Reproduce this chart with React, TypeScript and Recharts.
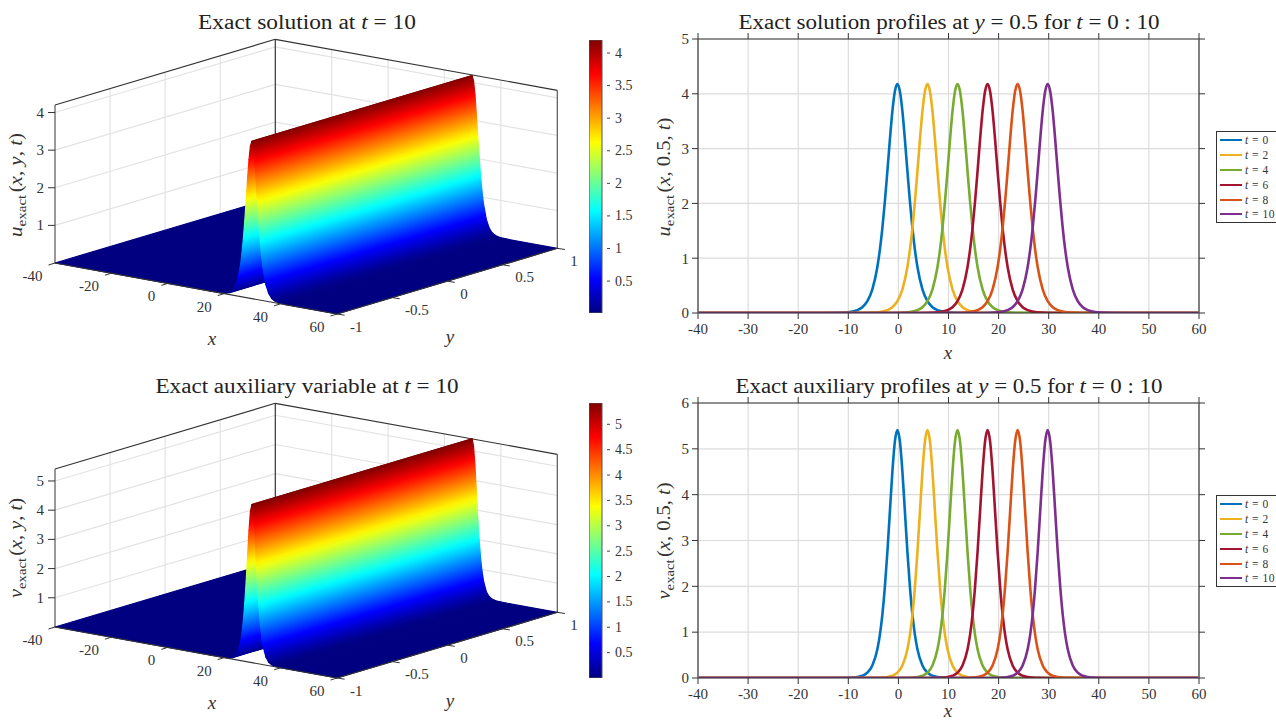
import React from 'react';
import {
  CartesianGrid,
  ComposedChart,
  Legend,
  Line,
  LineChart,
  ReferenceArea,
  Scatter,
  ScatterChart,
  XAxis,
  YAxis
} from 'recharts';

const SERIF = '"Liberation Serif", serif';
const INK = '#333333';

const xTicks = [-40, -30, -20, -10, 0, 10, 20, 30, 40, 50, 60];
const uTicks = [0, 1, 2, 3, 4, 5];
const vTicks = [0, 1, 2, 3, 4, 5, 6];
const uBarTicks = [0.5, 1, 1.5, 2, 2.5, 3, 3.5, 4];
const vBarTicks = [0.5, 1, 1.5, 2, 2.5, 3, 3.5, 4, 4.5, 5];
const surfaceXTicks = [-40, -20, 0, 20, 40, 60];
const surfaceYTicks = [-1, -0.5, 0, 0.5, 1];
const uSurfaceZTicks = [1, 2, 3, 4];
const vSurfaceZTicks = [1, 2, 3, 4, 5];

const timeLabels = ['0', '2', '4', '6', '8', '10'];
const lineColors = ['#0072bd', '#edb120', '#77ac30', '#a2142f', '#d95319', '#7e2f8e'];

// x samples read for each profile, denser around the peak
const xT0 = [-40, -15.2, -12.2, -10.2, -9.2, -8.2, -7.2, -6.2, -5.2, -4.2, -3.7, -3.2, -2.7, -2.2, -1.7, -1.2, -0.7, -0.2, 0.3, 0.8, 1.3, 1.8, 2.3, 2.8, 3.3, 3.8, 4.8, 5.8, 6.8, 7.8, 8.8, 9.8, 11.8, 14.8, 60];
const xT2 = [-40, -9.2, -6.2, -4.2, -3.2, -2.2, -1.2, -0.2, 0.8, 1.8, 2.3, 2.8, 3.3, 3.8, 4.3, 4.8, 5.3, 5.8, 6.3, 6.8, 7.3, 7.8, 8.3, 8.8, 9.3, 9.8, 10.8, 11.8, 12.8, 13.8, 14.8, 15.8, 17.8, 20.8, 60];
const xT4 = [-40, -3.2, -0.2, 1.8, 2.8, 3.8, 4.8, 5.8, 6.8, 7.8, 8.3, 8.8, 9.3, 9.8, 10.3, 10.8, 11.3, 11.8, 12.3, 12.8, 13.3, 13.8, 14.3, 14.8, 15.3, 15.8, 16.8, 17.8, 18.8, 19.8, 20.8, 21.8, 23.8, 26.8, 60];
const xT6 = [-40, 2.8, 5.8, 7.8, 8.8, 9.8, 10.8, 11.8, 12.8, 13.8, 14.3, 14.8, 15.3, 15.8, 16.3, 16.8, 17.3, 17.8, 18.3, 18.8, 19.3, 19.8, 20.3, 20.8, 21.3, 21.8, 22.8, 23.8, 24.8, 25.8, 26.8, 27.8, 29.8, 32.8, 60];
const xT8 = [-40, 8.8, 11.8, 13.8, 14.8, 15.8, 16.8, 17.8, 18.8, 19.8, 20.3, 20.8, 21.3, 21.8, 22.3, 22.8, 23.3, 23.8, 24.3, 24.8, 25.3, 25.8, 26.3, 26.8, 27.3, 27.8, 28.8, 29.8, 30.8, 31.8, 32.8, 33.8, 35.8, 38.8, 60];
const xT10 = [-40, 14.8, 17.8, 19.8, 20.8, 21.8, 22.8, 23.8, 24.8, 25.8, 26.3, 26.8, 27.3, 27.8, 28.3, 28.8, 29.3, 29.8, 30.3, 30.8, 31.3, 31.8, 32.3, 32.8, 33.3, 33.8, 34.8, 35.8, 36.8, 37.8, 38.8, 39.8, 41.8, 44.8, 60];
const profileXs = [xT0, xT2, xT4, xT6, xT8, xT10];

// the wave keeps its shape while it moves, so all six profiles share these heights
const uProfile = [0, 0.0003, 0.003, 0.012, 0.026, 0.052, 0.106, 0.217, 0.433, 0.841, 1.152, 1.55, 2.035, 2.589, 3.162, 3.682, 4.048, 4.18, 4.048, 3.682, 3.162, 2.589, 2.035, 1.55, 1.152, 0.841, 0.433, 0.217, 0.106, 0.052, 0.026, 0.012, 0.003, 0.0003, 0];
const vProfile = [0, 0.0001, 0.0006, 0.0036, 0.0086, 0.02, 0.049, 0.116, 0.272, 0.626, 0.942, 1.383, 1.987, 2.749, 3.63, 4.503, 5.162, 5.41, 5.162, 4.503, 3.63, 2.749, 1.987, 1.383, 0.942, 0.626, 0.272, 0.116, 0.049, 0.02, 0.0086, 0.0036, 0.0006, 0.0001, 0];

const jet = (t: number) => {
  const v = Math.max(0, Math.min(1, t));
  const ch = (c: number) => Math.round(255 * Math.max(0, Math.min(1, 1.5 - Math.abs(4 * v - c))));
  return `rgb(${ch(3)},${ch(2)},${ch(1)})`;
};

const jetStops = [0, 0.125, 0.375, 0.625, 0.875, 1];

const Subscripted = ({ sym, inner }: { sym: string; inner: React.ReactNode }) => (
  <>
    <tspan fontStyle="italic">{sym}</tspan>
    <tspan fontSize="0.72em" dy="3.5">exact</tspan>
    <tspan dy="-3.5" dx="2">(</tspan>
    {inner}
    <tspan>)</tspan>
  </>
);

const Title = ({ x, y, len, children }: { x: number; y: number; len: number; children: React.ReactNode }) => (
  <text x={x} y={y} textAnchor="middle" fontFamily={SERIF} fontSize={20} fill="#222" textLength={len} lengthAdjust="spacingAndGlyphs">
    {children}
  </text>
);

const SideLabel = ({ x, y, len, children }: { x: number; y: number; len: number; children: React.ReactNode }) => (
  <text
    transform={`translate(${x},${y}) rotate(-90)`}
    textAnchor="middle"
    fontFamily={SERIF}
    fontSize={18}
    fill={INK}
    textLength={len}
    lengthAdjust="spacingAndGlyphs"
  >
    {children}
  </text>
);

const Math_ = ({ children }: { children: string }) => <tspan fontStyle="italic">{children}</tspan>;

// ---- flat strips of the surface, placed at a scaled corner point
const StripShape = (props: any) => {
  const { cx, cy, payload } = props;
  const { corners, z0, z1, id, n } = payload;
  const pts = corners.map((c: number[]) => `${cx + c[0]},${cy + c[1]}`).join(' ');
  const frac = [0, 0.2, 0.4, 0.6, 0.8, 1];
  return (
    <g>
      <defs>
        <linearGradient id={id} gradientUnits="userSpaceOnUse" x1={cx} y1={cy} x2={cx + n[0]} y2={cy + n[1]}>
          {frac.map((f) => (
            <stop key={f} offset={f} stopColor={jet(z0 + (z1 - z0) * f)} />
          ))}
        </linearGradient>
      </defs>
      <polygon points={pts} fill={`url(#${id})`} stroke={`url(#${id})`} strokeWidth={1.2} strokeLinejoin="round" />
    </g>
  );
};

const SegmentShape = (props: any) => {
  const { cx, cy, payload } = props;
  return (
    <line
      x1={cx}
      y1={cy}
      x2={cx + payload.dx}
      y2={cy + payload.dy}
      stroke={payload.stroke}
      strokeWidth={payload.width}
    />
  );
};

const LabelShape = (props: any) => {
  const { cx, cy, payload } = props;
  return (
    <text
      x={cx + payload.ox}
      y={cy + payload.oy}
      textAnchor={payload.anchor}
      dominantBaseline="central"
      fontFamily={SERIF}
      fontSize={payload.size}
      fontStyle={payload.italic ? 'italic' : 'normal'}
      fill={INK}
    >
      {payload.text}
    </text>
  );
};

const origin = { x: 55, y: 263 };
const xStep = { x: 2.82, y: 0.51 };
const yStep = { x: 110.15, y: -32.85 };

interface SurfaceProps {
  id: string;
  height: number;
  xs: number[];
  zs: number[];
  zMax: number;
  zTicks: number[];
  title: React.ReactNode;
  titleLen: number;
  sideLabel: React.ReactNode;
  sideY: number;
  sideLen: number;
}

const SurfacePanel: React.FC<SurfaceProps> = ({ id, height, xs, zs, zMax, zTicks, title, titleLen, sideLabel, sideY, sideLen }) => {
  const zScale = 158 / zMax;
  const project = (x: number, y: number, z: number) => ({
    sx: origin.x + (x + 40) * xStep.x + (y + 1) * yStep.x,
    sy: origin.y + (x + 40) * xStep.y + (y + 1) * yStep.y - z * zScale
  });
  const segment = (a: number[], b: number[], stroke: string, width = 1.2) => {
    const p = project(a[0], a[1], a[2]);
    const q = project(b[0], b[1], b[2]);
    return { ...p, dx: q.sx - p.sx, dy: q.sy - p.sy, stroke, width };
  };
  const offset = (a: number[], dx: number, dy: number, stroke: string) => ({
    ...project(a[0], a[1], a[2]),
    dx,
    dy,
    stroke,
    width: 1
  });

  const GRID = '#e3e3e3';
  const backLines = [
    ...surfaceYTicks.slice(1, -1).map((y) => segment([-40, y, 0], [-40, y, zMax], GRID)),
    ...surfaceXTicks.slice(1, -1).map((x) => segment([x, 1, 0], [x, 1, zMax], GRID)),
    ...zTicks.map((z) => segment([-40, -1, z], [-40, 1, z], GRID)),
    ...zTicks.map((z) => segment([-40, 1, z], [60, 1, z], GRID)),
    segment([-40, -1, zMax], [-40, 1, zMax], INK),
    segment([-40, 1, zMax], [60, 1, zMax], INK),
    segment([-40, 1, 0], [-40, 1, zMax], INK),
    segment([-40, -1, 0], [-40, -1, zMax], '#555'),
    segment([60, 1, 0], [60, 1, zMax], '#555')
  ];

  const strips = xs.slice(0, -1).map((x, i) => {
    const a = project(x, -1, zs[i]);
    const b = project(x, 1, zs[i]);
    const c = project(xs[i + 1], 1, zs[i + 1]);
    const d = project(xs[i + 1], -1, zs[i + 1]);
    const ex = b.sx - a.sx;
    const ey = b.sy - a.sy;
    const vx = d.sx - a.sx;
    const vy = d.sy - a.sy;
    const along = (vx * ex + vy * ey) / (ex * ex + ey * ey);
    return {
      sx: a.sx,
      sy: a.sy,
      id: `${id}-strip-${i}`,
      z0: zs[i] / zMax,
      z1: zs[i + 1] / zMax,
      n: [vx - along * ex, vy - along * ey],
      corners: [[0, 0], [ex, ey], [c.sx - a.sx, c.sy - a.sy], [vx, vy]]
    };
  });

  const frontLines = [
    segment([-40, -1, 0], [60, -1, 0], INK),
    segment([60, -1, 0], [60, 1, 0], INK),
    ...surfaceXTicks.map((x) => offset([x, -1, 0], -6.5, 2, INK)),
    ...surfaceYTicks.map((y) => offset([60, y, 0], 7.6, 1.2, INK)),
    ...zTicks.map((z) => offset([-40, -1, z], -7, 0, INK))
  ];

  const labels = [
    ...surfaceXTicks.map((x) => ({ ...project(x, -1, 0), ox: -12.5, oy: 13, anchor: 'end', size: 15, text: String(x) })),
    ...surfaceYTicks.map((y) => ({ ...project(60, y, 0), ox: 13, oy: 12.5, anchor: 'start', size: 15, text: String(y) })),
    ...zTicks.map((z) => ({ ...project(-40, -1, z), ox: -11, oy: 0, anchor: 'end', size: 15, text: String(z) })),
    { ...project(60, -1, 0), ox: -125, oy: 24, anchor: 'middle', size: 19, italic: true, text: 'x' },
    { ...project(60, -1, 0), ox: 113, oy: 22, anchor: 'middle', size: 19, italic: true, text: 'y' }
  ];

  return (
    <ScatterChart width={640} height={height} margin={{ top: 0, right: 0, bottom: 0, left: 0 }}>
      <XAxis hide type="number" dataKey="sx" domain={[0, 640]} allowDataOverflow />
      <YAxis hide type="number" dataKey="sy" domain={[0, height]} reversed allowDataOverflow />
      <Scatter data={backLines} shape={SegmentShape} isAnimationActive={false} />
      <Scatter data={strips} shape={StripShape} isAnimationActive={false} />
      <Scatter data={frontLines} shape={SegmentShape} isAnimationActive={false} />
      <Scatter data={labels} shape={LabelShape} isAnimationActive={false} />
      <Title x={307} y={29} len={titleLen}>{title}</Title>
      <SideLabel x={22} y={sideY} len={sideLen}>{sideLabel}</SideLabel>
    </ScatterChart>
  );
};

const BarTick = (props: any) => {
  const { x, y, payload } = props;
  return (
    <g>
      <line x1={x - 3} x2={x} y1={y} y2={y} stroke="#444" />
      <text x={x + 5} y={y} dominantBaseline="central" fontFamily={SERIF} fontSize={14} fill={INK}>
        {payload.value}
      </text>
    </g>
  );
};

const ColorBar = ({ id, domain, ticks, height }: { id: string; domain: number[]; ticks: number[]; height: number }) => (
  <ComposedChart width={60} height={height} margin={{ top: 0, right: 0, bottom: 0, left: 0 }} data={[{ a: 0 }, { a: 1 }]}>
    <defs>
      <linearGradient id={id} x1="0" y1="1" x2="0" y2="0">
        {jetStops.map((s) => (
          <stop key={s} offset={s} stopColor={jet(s)} />
        ))}
      </linearGradient>
    </defs>
    <XAxis hide type="number" dataKey="a" domain={[0, 1]} />
    <YAxis
      orientation="right"
      width={47}
      type="number"
      domain={domain}
      ticks={ticks}
      interval={0}
      axisLine={false}
      tickLine={false}
      tick={BarTick}
      allowDataOverflow
    />
    <ReferenceArea x1={0} x2={1} y1={domain[0]} y2={domain[1]} fill={`url(#${id})`} fillOpacity={1} stroke="#555" ifOverflow="visible" />
  </ComposedChart>
);

const LegendBox = () => (
  <div
    style={{
      boxSizing: 'border-box',
      width: 70,
      height: 92,
      border: '1.5px solid #333',
      background: '#fff',
      padding: '1px 0 0 3px',
      fontFamily: SERIF,
      fontSize: 11.5,
      letterSpacing: 0.5,
      color: INK
    }}
  >
    {timeLabels.map((t, i) => (
      <div key={t} style={{ display: 'flex', alignItems: 'center', height: 14.8 }}>
        <span style={{ display: 'inline-block', width: 22, height: 2, background: lineColors[i], marginRight: 3 }} />
        <span style={{ whiteSpace: 'pre' }}>
          <i>t</i> = {t}
        </span>
      </div>
    ))}
  </div>
);

const blankTick = () => <g />;
const axisTick = { fontSize: 15, fill: INK, fontFamily: SERIF };
const sideLine = { stroke: '#666', strokeWidth: 1.6 };

interface ProfileProps {
  height: number;
  bottom: number;
  labelY: number;
  profile: number[];
  yTicks: number[];
  title: React.ReactNode;
  titleLen: number;
  sideLabel: React.ReactNode;
  sideY: number;
  sideLen: number;
}

const ProfilePanel: React.FC<ProfileProps> = ({ height, bottom, labelY, profile, yTicks, title, titleLen, sideLabel, sideY, sideLen }) => {
  const series = profileXs.map((xs) => xs.map((x, i) => ({ x, value: profile[i] })));
  return (
    <LineChart width={636} height={height} margin={{ top: 33, right: 0, bottom, left: 8 }}>
      <CartesianGrid stroke="#dcdcdc" strokeWidth={1.2} />
      <XAxis
        type="number"
        dataKey="x"
        domain={[-40, 60]}
        ticks={xTicks}
        interval={0}
        stroke={INK}
        tick={axisTick}
        tickSize={6}
        tickMargin={4}
        allowDataOverflow
      />
      <XAxis
        xAxisId="top"
        orientation="top"
        height={6}
        type="number"
        dataKey="x"
        domain={[-40, 60]}
        ticks={xTicks}
        interval={0}
        stroke={INK}
        tick={blankTick}
        tickSize={6}
        allowDataOverflow
      />
      <YAxis
        width={50}
        type="number"
        domain={[yTicks[0], yTicks[yTicks.length - 1]]}
        ticks={yTicks}
        interval={0}
        axisLine={sideLine}
        tick={axisTick}
        tickLine={{ stroke: INK }}
        tickSize={6}
        tickMargin={3}
        allowDataOverflow
      />
      <YAxis
        yAxisId="right"
        orientation="right"
        width={6}
        type="number"
        domain={[yTicks[0], yTicks[yTicks.length - 1]]}
        ticks={yTicks}
        interval={0}
        axisLine={sideLine}
        tick={blankTick}
        tickLine={{ stroke: INK }}
        tickSize={6}
        allowDataOverflow
      />
      {series.map((data, i) => (
        <Line
          key={timeLabels[i]}
          data={data}
          dataKey="value"
          name={`t = ${timeLabels[i]}`}
          type="monotone"
          stroke={lineColors[i]}
          strokeWidth={2.6}
          dot={false}
          activeDot={false}
          isAnimationActive={false}
        />
      ))}
      <Legend layout="vertical" align="right" verticalAlign="top" content={LegendBox} wrapperStyle={{ left: 576, top: 131, width: 71 }} />
      <Title x={309} y={29} len={titleLen}>{title}</Title>
      <SideLabel x={30} y={sideY} len={sideLen}>{sideLabel}</SideLabel>
      <text x={308} y={labelY} textAnchor="middle" fontFamily={SERIF} fontSize={19} fontStyle="italic" fill={INK}>
        x
      </text>
    </LineChart>
  );
};

const place = (left: number, top: number): React.CSSProperties => ({ position: 'absolute', left, top });

export default function App() {
  return (
    <div style={{ position: 'absolute', left: 0, top: 0, width: 1276, height: 722, background: '#fff', overflow: 'hidden' }}>
      <div style={place(0, 0)}>
        <SurfacePanel
          id="u"
          height={360}
          xs={xT10}
          zs={uProfile}
          zMax={4.2}
          zTicks={uSurfaceZTicks}
          title={<>Exact solution at <Math_>t</Math_> = 10</>}
          titleLen={218}
          sideLabel={<Subscripted sym="u" inner={<><Math_>x</Math_>, <Math_>y</Math_>, <Math_>t</Math_></>} />}
          sideY={185}
          sideLen={104}
        />
      </div>
      <div style={place(589, 40)}>
        <ColorBar id="barU" domain={[0.01, 4.2]} ticks={uBarTicks} height={273} />
      </div>
      <div style={place(640, 0)}>
        <ProfilePanel
          height={364}
          bottom={21}
          labelY={359}
          profile={uProfile}
          yTicks={uTicks}
          title={<>Exact solution profiles at <Math_>y</Math_> = 0.5 for <Math_>t</Math_> = 0 : 10</>}
          titleLen={421}
          sideLabel={<Subscripted sym="u" inner={<><Math_>x</Math_>, 0.5, <Math_>t</Math_></>} />}
          sideY={177}
          sideLen={119}
        />
      </div>
      <div style={place(0, 364)}>
        <SurfacePanel
          id="v"
          height={358}
          xs={xT10}
          zs={vProfile}
          zMax={5.41}
          zTicks={vSurfaceZTicks}
          title={<>Exact auxiliary variable at <Math_>t</Math_> = 10</>}
          titleLen={303}
          sideLabel={<Subscripted sym="v" inner={<><Math_>x</Math_>, <Math_>y</Math_>, <Math_>t</Math_></>} />}
          sideY={184}
          sideLen={100}
        />
      </div>
      <div style={place(589, 403)}>
        <ColorBar id="barV" domain={[0, 5.42]} ticks={vBarTicks} height={275} />
      </div>
      <div style={place(640, 364)}>
        <ProfilePanel
          height={358}
          bottom={14}
          labelY={353}
          profile={vProfile}
          yTicks={vTicks}
          title={<>Exact auxiliary profiles at <Math_>y</Math_> = 0.5 for <Math_>t</Math_> = 0 : 10</>}
          titleLen={427}
          sideLabel={<Subscripted sym="v" inner={<><Math_>x</Math_>, 0.5, <Math_>t</Math_></>} />}
          sideY={177}
          sideLen={117}
        />
      </div>
    </div>
  );
}
